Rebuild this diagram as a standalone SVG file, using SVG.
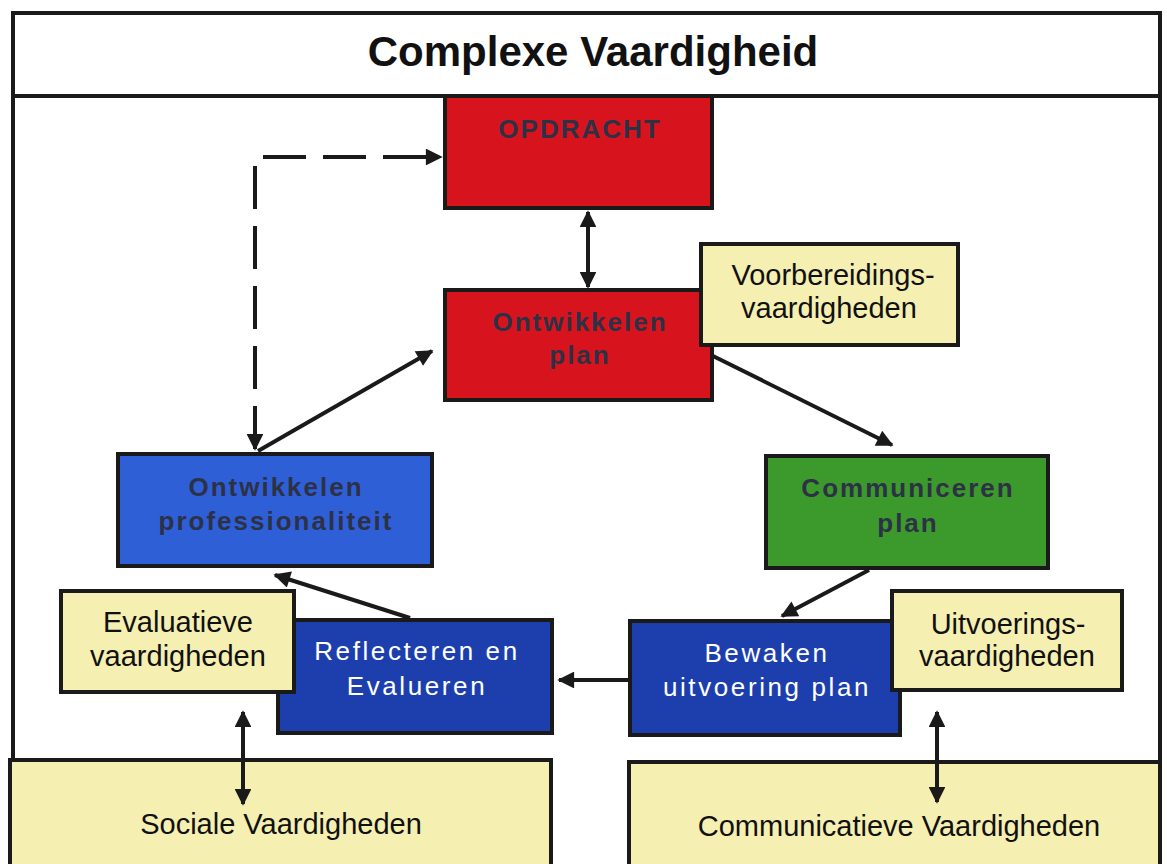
<svg xmlns="http://www.w3.org/2000/svg" width="1167" height="864" viewBox="0 0 1167 864">
<defs>
<marker id="ah" viewBox="0 0 10 10" refX="9" refY="5" markerWidth="4.6" markerHeight="4.2" orient="auto-start-reverse" markerUnits="strokeWidth">
<path d="M0,0 L10,5 L0,10 z" fill="#1a1a1a"/>
</marker>
<style>
.box{stroke:#1a1a1a;stroke-width:4}
.red{fill:#d7141e}
.yel{fill:#f6efb2}
.lblue{fill:#2f5fd6}
.dblue{fill:#1d3fae}
.green{fill:#3c9a2c}
.con{stroke:#1a1a1a;stroke-width:4;fill:none}
.dash{stroke-dasharray:43 17}
text{font-family:"Liberation Sans",Arial,sans-serif;text-anchor:middle}
.bd{font-weight:bold;font-size:26px;fill:#2d3146;letter-spacing:2px}
.wt{font-size:26px;fill:#ffffff;letter-spacing:2.6px}
.yt{font-size:29px;fill:#111111}
</style>
</defs>
<rect width="1167" height="864" fill="#ffffff"/>
<g id="frame">
<rect x="13" y="13" width="1147" height="900" fill="none" stroke="#1a1a1a" stroke-width="4"/>
<line x1="13" y1="96" x2="1160" y2="96" stroke="#1a1a1a" stroke-width="4"/>
<text x="593" y="66" font-size="42" font-weight="bold" fill="#111">Complexe Vaardigheid</text>
</g>
<g id="opdracht">
<rect class="box red" x="445" y="96" width="267" height="112"/>
<text class="bd" x="580" y="138">OPDRACHT</text>
</g>
<g id="ontwikkelen-plan">
<rect class="box red" x="445" y="290" width="267" height="110"/>
<text class="bd" x="580" y="331">Ontwikkelen</text>
<text class="bd" x="580" y="364">plan</text>
</g>
<g id="voorbereidings">
<rect class="box yel" x="701" y="244" width="257" height="101"/>
<text class="yt" x="833" y="285">Voorbereidings-</text>
<text class="yt" x="829" y="318">vaardigheden</text>
</g>
<g id="ontwikkelen-professionaliteit">
<rect class="box lblue" x="118" y="454" width="314" height="112"/>
<text class="bd" x="276" y="496">Ontwikkelen</text>
<text class="bd" x="276" y="530">professionaliteit</text>
</g>
<g id="communiceren-plan">
<rect class="box green" x="766" y="456" width="282" height="112"/>
<text class="bd" x="908" y="497">Communiceren</text>
<text class="bd" x="908" y="532">plan</text>
</g>
<g id="reflecteren">
<rect class="box dblue" x="278" y="620" width="274" height="113"/>
<text class="wt" x="417" y="660">Reflecteren en</text>
<text class="wt" x="417" y="695">Evalueren</text>
</g>
<g id="evaluatieve">
<rect class="box yel" x="61" y="591" width="233" height="101"/>
<text class="yt" x="178" y="632">Evaluatieve</text>
<text class="yt" x="178" y="666">vaardigheden</text>
</g>
<g id="bewaken">
<rect class="box dblue" x="630" y="621" width="270" height="114"/>
<text class="wt" x="767" y="662">Bewaken</text>
<text class="wt" x="767" y="696">uitvoering plan</text>
</g>
<g id="uitvoerings">
<rect class="box yel" x="892" y="591" width="230" height="99"/>
<text class="yt" x="1008" y="634">Uitvoerings-</text>
<text class="yt" x="1007" y="666">vaardigheden</text>
</g>
<g id="sociale">
<rect class="box yel" x="10" y="760" width="541" height="120"/>
<text class="yt" x="281" y="834">Sociale Vaardigheden</text>
</g>
<g id="communicatieve">
<rect class="box yel" x="629" y="762" width="531" height="120"/>
<text class="yt" x="899" y="836">Communicatieve Vaardigheden</text>
</g>
<g id="connectors">
<line class="con" x1="588" y1="212" x2="588" y2="287" marker-start="url(#ah)" marker-end="url(#ah)"/>
<path class="con dash" d="M255,449 L255,157 L441,157" marker-start="url(#ah)" marker-end="url(#ah)"/>
<line class="con" x1="258" y1="451" x2="432" y2="351" marker-end="url(#ah)"/>
<line class="con" x1="713" y1="356" x2="892" y2="445" marker-end="url(#ah)"/>
<line class="con" x1="869" y1="570" x2="782" y2="616" marker-end="url(#ah)"/>
<line class="con" x1="628" y1="680" x2="559" y2="680" marker-end="url(#ah)"/>
<line class="con" x1="410" y1="618" x2="275" y2="575" marker-end="url(#ah)"/>
<line class="con" x1="243" y1="712" x2="243" y2="804" marker-start="url(#ah)" marker-end="url(#ah)"/>
<line class="con" x1="937" y1="712" x2="937" y2="802" marker-start="url(#ah)" marker-end="url(#ah)"/>
</g>
</svg>
